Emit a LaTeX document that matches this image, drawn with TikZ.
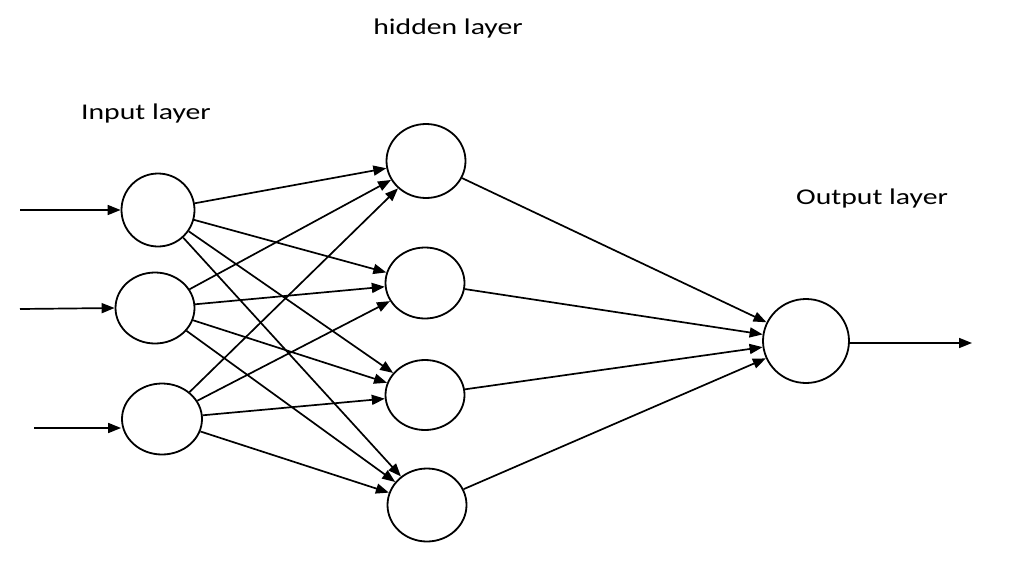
\documentclass[tikz,border=0pt]{standalone}
\usepackage{fontspec}
\setmainfont{Carlito}
\usetikzlibrary{shapes.geometric,arrows.meta}
\begin{document}
\begin{tikzpicture}[x=1pt,y=-1pt,
  neuron/.style={draw,ellipse,line width=1.8pt,inner sep=0pt},
  conn/.style={line width=1.7pt,-{Triangle[length=13pt,width=10pt]}},
  lbl/.style={anchor=base,inner sep=0pt,font=\fontsize{22.5}{26}\selectfont,text=black}]
\useasboundingbox (0,0) rectangle (1024,578);
% input layer
\node[neuron,minimum width=73pt,minimum height=73pt] (i1) at (158,210) {};
\node[neuron,minimum width=79pt,minimum height=71pt] (i2) at (155,308) {};
\node[neuron,minimum width=80pt,minimum height=71pt] (i3) at (162,419) {};
% hidden layer
\node[neuron,minimum width=79pt,minimum height=74pt] (h1) at (426,161) {};
\node[neuron,minimum width=79pt,minimum height=71pt] (h2) at (425,283) {};
\node[neuron,minimum width=79pt,minimum height=70pt] (h3) at (425,395) {};
\node[neuron,minimum width=79pt,minimum height=73pt] (h4) at (427,505) {};
% output
\node[neuron,minimum width=86pt,minimum height=84pt] (o) at (806,341) {};
% free ends
\coordinate (a1) at (20,210);
\coordinate (a2) at (20,309);
\coordinate (a3) at (34,428);
\coordinate (out) at (972,343);
\draw[conn] (a1) -- (i1.west);
\draw[conn] (a2) -- (i2.west);
\draw[conn] (a3) -- (i3.west |- a3);
\foreach \i in {i1,i2,i3}{
  \foreach \h in {h1,h2,h3,h4}{
    \draw[conn] (\i) -- (\h);
  }
}
\foreach \h in {h1,h2,h3,h4}{
  \draw[conn] (\h) -- (o);
}
\draw[conn] (o.east |- out) -- (out);
% labels
\node[lbl] (t1) at (448,35) {\scalebox{1.32}[1]{hidden layer}};
\node[lbl] (t2) at (146,119) {\scalebox{1.32}[1]{Input layer}};
\node[lbl] (t3) at (872,204) {\scalebox{1.32}[1]{Output layer}};
\end{tikzpicture}
\end{document}
